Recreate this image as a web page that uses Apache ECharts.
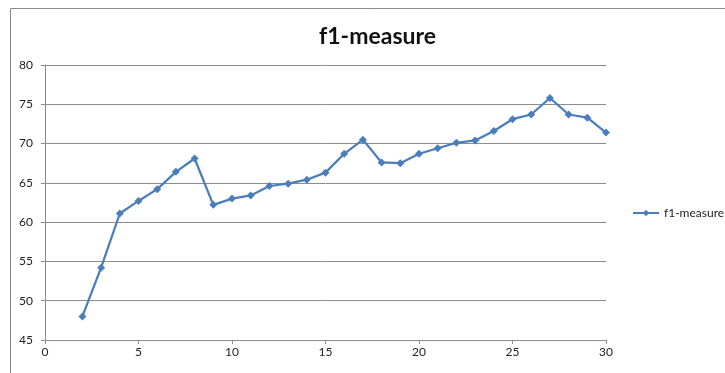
<!DOCTYPE html>
<html>
<head>
<meta charset="utf-8">
<script src="https://cdn.jsdelivr.net/npm/echarts@6/dist/echarts.min.js"></script>
<style>
  html, body { margin: 0; padding: 0; background: #fff; }
  #chart { width: 725px; height: 373px; }
</style>
</head>
<body>
<div id="chart"></div>
<script>
var xs = [2, 3, 4, 5, 6, 7, 8, 9, 10, 11, 12, 13, 14, 15, 16, 17, 18, 19, 20, 21, 22, 23, 24, 25, 26, 27, 28, 29, 30]
var f1 = [48.0, 54.2, 61.1, 62.7, 64.2, 66.4, 68.1, 62.2, 63.0, 63.4, 64.6, 64.9, 65.4, 66.3, 68.7, 70.5, 67.6, 67.5, 68.7, 69.4, 70.1, 70.4, 71.6, 73.1, 73.7, 75.8, 73.7, 73.3, 71.4]

var points = xs.map(function (x, i) { return [x, f1[i]] })

var myChart = echarts.init(document.getElementById('chart'))
var option = {
  animation: false,
  title: {
    text: 'f1-measure',
    left: 314,
    top: 20,
    textStyle: {
      fontFamily: 'Lato',
      fontSize: 23,
      fontWeight: 'bold',
      color: '#111'
    }
  },
  legend: {
    left: 632,
    top: 207,
    padding: 0,
    itemWidth: 26,
    itemHeight: 8,
    itemGap: 0,
    textStyle: {
      fontFamily: 'Lato',
      fontSize: 12,
      color: '#222'
    },
    data: ['f1-measure']
  },
  graphic: [{
    type: 'rect',
    shape: { x: 10.5, y: 8.5, width: 800, height: 500 },
    style: { fill: 'none', stroke: '#8a8a8a', lineWidth: 1 },
    silent: true
  }],
  grid: {
    left: 45,
    right: 119,
    top: 65,
    bottom: 33,
    containLabel: false
  },
  xAxis: {
    type: 'value',
    min: 0,
    max: 30,
    interval: 5,
    axisLine: { lineStyle: { color: '#8c8c8c', width: 1 } },
    axisTick: { show: true, inside: false, length: 4, lineStyle: { color: '#8c8c8c' } },
    axisLabel: { fontFamily: 'Lato', fontSize: 12, color: '#222', margin: 6 },
    splitLine: { show: false }
  },
  yAxis: {
    type: 'value',
    min: 45,
    max: 80,
    interval: 5,
    axisLine: { show: true, lineStyle: { color: '#8c8c8c', width: 1 } },
    axisTick: { show: true, inside: false, length: 4, lineStyle: { color: '#8c8c8c' } },
    axisLabel: { fontFamily: 'Lato', fontSize: 12, color: '#222', margin: 12 },
    splitLine: { show: true, lineStyle: { color: '#8c8c8c', width: 1 } }
  },
  series: [{
    name: 'f1-measure',
    type: 'line',
    data: points,
    symbol: 'diamond',
    symbolSize: 8,
    color: '#4a7ebb',
    lineStyle: { color: '#4a7ebb', width: 2.25 },
    itemStyle: { color: '#4a7ebb' }
  }]
}
myChart.setOption(option)
</script>
</body>
</html>
